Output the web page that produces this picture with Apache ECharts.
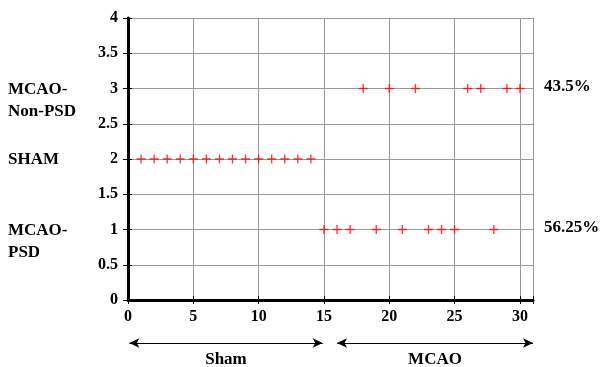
<!DOCTYPE html>
<html>
<head>
<meta charset="utf-8">
<script src="https://cdn.jsdelivr.net/npm/echarts@6/dist/echarts.min.js"></script>
<style>
  html, body { margin: 0; padding: 0; background: #fff; }
  #chart { width: 601px; height: 367px; }
</style>
</head>
<body>
<div id="chart"></div>
<script>
// animal index (x) for each group, y = group code
const shamX = [1, 2, 3, 4, 5, 6, 7, 8, 9, 10, 11, 12, 13, 14];
const psdX = [15, 16, 17, 19, 21, 23, 24, 25, 28];
const nonPsdX = [18, 20, 22, 26, 27, 29, 30];
const groupY = { psd: 1, sham: 2, nonPsd: 3 };

const groupLabels = [
  { text: "MCAO-\nNon-PSD", y: 3 },
  { text: "SHAM", y: 2 },
  { text: "MCAO-\nPSD", y: 1 },
];
const percentLabels = [
  { text: "43.5%", y: 3 },
  { text: "56.25%", y: 1 },
];
// bottom arrows: [from, to] in x units, and their captions
const arrowRanges = [[0.1, 14.9], [16, 31]];
const arrowNames = ["Sham", "MCAO"];

const font = "'Liberation Serif', 'DejaVu Serif', serif";
const plus = "path://M4,0h1.4v4h4v1.4h-4v4h-1.4v-4h-4v-1.4h4z";

const chart = echarts.init(document.getElementById("chart"));

const pts = (xs, y) => xs.map((x) => [x, y]);
const scatter = (data) => ({
  type: "scatter",
  data,
  symbol: plus,
  symbolSize: 9,
  itemStyle: { color: "#ff0000" },
  z: 5,
});

chart.setOption({
  animation: false,
  grid: { left: 128, right: 68, top: 18, bottom: 67 },
  xAxis: [
    {
      type: "value",
      min: 0,
      max: 31,
      interval: 5,
      axisLine: { show: true, lineStyle: { color: "#000", width: 3 } },
      axisTick: { show: true, inside: true, length: 4, lineStyle: { color: "#000" } },
      axisLabel: {
        color: "#000",
        fontFamily: font,
        fontWeight: "bold",
        fontSize: 16,
        margin: 9,
        formatter: (v) => (v % 5 === 0 ? String(v) : ""),
      },
      splitLine: { show: true, lineStyle: { color: "#9a9a9a", width: 1 } },
    },
    {
      type: "value",
      position: "top",
      min: 0,
      max: 31,
      interval: 5,
      axisLine: { show: true, lineStyle: { color: "#000", width: 2 } },
      axisTick: { show: true, inside: true, length: 4, lineStyle: { color: "#000" } },
      axisLabel: { show: false },
      splitLine: { show: false },
    },
  ],
  yAxis: [
    {
      type: "value",
      min: 0,
      max: 4,
      interval: 0.5,
      axisLine: { show: true, lineStyle: { color: "#000", width: 3 } },
      axisTick: { show: true, inside: true, length: 4, lineStyle: { color: "#000" } },
      axisLabel: {
        color: "#000",
        fontFamily: font,
        fontWeight: "bold",
        fontSize: 16,
        margin: 10,
      },
      splitLine: { show: true, lineStyle: { color: "#9a9a9a", width: 1 } },
    },
    {
      type: "value",
      position: "right",
      min: 0,
      max: 4,
      interval: 0.5,
      axisLine: { show: true, lineStyle: { color: "#000", width: 2 } },
      axisTick: { show: true, inside: true, length: 5, lineStyle: { color: "#000" } },
      axisLabel: { show: false },
      splitLine: { show: false },
    },
  ],
  series: [
    scatter(pts(shamX, groupY.sham)),
    scatter(pts(psdX, groupY.psd)),
    scatter(pts(nonPsdX, groupY.nonPsd)),
  ],
});

// side labels and bottom arrows, placed through the axis scales
const px = (x, y) => chart.convertToPixel({ xAxisIndex: 0, yAxisIndex: 0 }, [x, y]);
const arrowY = 343;
const graphics = [];

groupLabels.forEach((g) => {
  const p = px(0, g.y);
  graphics.push({
    type: "text",
    left: 8,
    top: p[1] - 10,
    style: {
      text: g.text,
      font: `bold 17px ${font}`,
      fill: "#000",
      lineHeight: 22,
    },
  });
});

percentLabels.forEach((g) => {
  const p = px(31, g.y);
  graphics.push({
    type: "text",
    left: p[0] + 11,
    top: p[1] - 10,
    style: { text: g.text, font: `bold 17px ${font}`, fill: "#000" },
  });
});

const markLines = [];
arrowRanges.forEach((r, i) => {
  const a = px(r[0], 0);
  const b = px(r[1], 0);
  markLines.push([{ x: a[0], y: arrowY }, { x: b[0], y: arrowY }]);
  graphics.push({
    type: "text",
    x: (a[0] + b[0]) / 2,
    y: 360,
    style: {
      text: arrowNames[i],
      font: `bold 17px ${font}`,
      fill: "#000",
      align: "center",
      verticalAlign: "middle",
    },
  });
});

chart.setOption({
  graphic: graphics,
  series: [
    {
      markLine: {
        silent: true,
        symbol: ["arrow", "arrow"],
        symbolSize: [7, 10],
        label: { show: false },
        lineStyle: { color: "#000", width: 1, type: "solid" },
        data: markLines,
      },
    },
  ],
});
</script>
</body>
</html>
